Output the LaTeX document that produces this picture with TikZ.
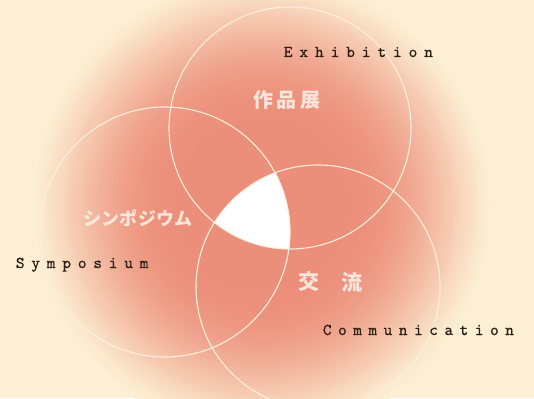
\documentclass[tikz,border=0pt]{standalone}
\usepackage{fontspec}
\newfontfamily\jp{Noto Sans CJK JP}
\newfontfamily\monof{lmmono10-regular}[Extension=.otf, FakeBold=0.7]
\makeatletter
\newcommand\spacedtext[2]{\@tfor\sp@ch:=#2\do{\makebox[#1]{\sp@ch}}}
\makeatother
\definecolor{bgc}{HTML}{FCEFD3}
\definecolor{c0}{HTML}{EC8F7A}
\definecolor{linec}{HTML}{FDEEDD}
\definecolor{txt}{HTML}{2A1E16}
\definecolor{jpc}{HTML}{FDF0E6}
\tikzset{
  ring/.style={draw=linec, line width=1.1pt},
  mono/.style={inner sep=0pt, anchor=base west, text=txt, font=\fontsize{16.5}{16.5}\monof},
  jpl/.style={inner sep=0pt, text=jpc, text opacity=0.88, font=\fontsize{#1}{#1}\jp\bfseries},
}
\begin{document}
\begin{tikzpicture}[x=1pt,y=-1pt]
\useasboundingbox (0,0) rectangle (534,398);
\fill[bgc] (0,0) rectangle (534,398);
\coordinate (G) at (262,205);
% soft radial blob built from concentric discs
\foreach \r in {232,229,...,88}{
  \pgfmathsetmacro\tt{min(max((\r-90)/142,0),0.999)}
  \pgfmathtruncatemacro\f{100*(1-\tt*\tt)^1.4}
  \fill[c0!\f!bgc] (G) circle (\r pt);
}
\coordinate (T) at (290,128);
\coordinate (L) at (165,232);
\coordinate (R) at (318,287);
\begin{scope}
  \clip (T) circle (121pt);
  \clip (L) circle (125pt);
  \fill[white] (R) circle (122pt);
\end{scope}
\draw[ring] (T) circle (121pt);
\draw[ring] (L) circle (125pt);
\draw[ring] (R) circle (122pt);
\node[mono] (exh) at (280.2,57) {\spacedtext{15.6pt}{Exhibition}};
\node[mono] (sym) at (12.25,268) {\spacedtext{15.5pt}{Symposium}};
\node[mono] (com) at (319.4,335) {\spacedtext{15.2pt}{Communication}};
\node[jpl=20] (sakuhin) at (287,100) {\spacedtext{23.3pt}{作品展}};
\node[jpl=18] (sympjp) at (138,218) {\spacedtext{18.3pt}{シンポジウム}};
\node[jpl=21] (ko) at (308.5,282) {交};
\node[jpl=21] (ryu) at (352,282) {流};
\end{tikzpicture}
\end{document}
